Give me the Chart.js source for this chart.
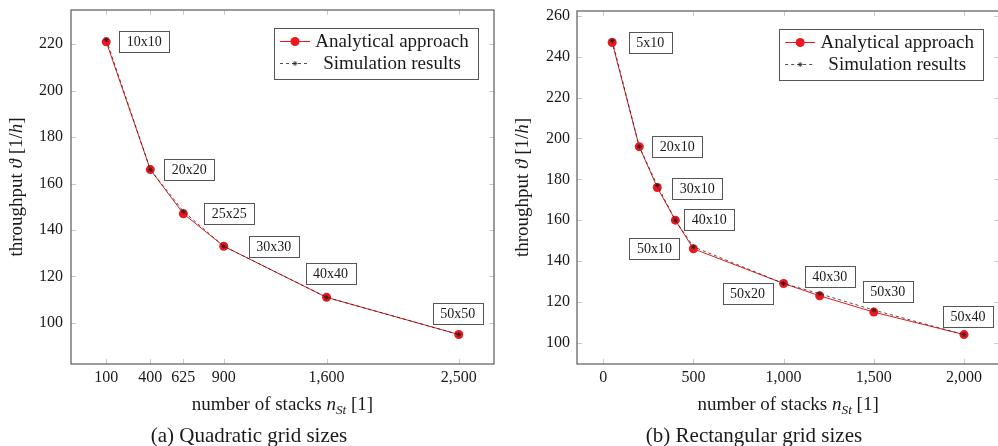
<!DOCTYPE html>
<html lang="en">
<head>
<meta charset="utf-8">
<title>Throughput over number of stacks</title>
<script src="https://cdn.jsdelivr.net/npm/chart.js@4.4.4/dist/chart.umd.min.js"></script>
<style>
  html, body { margin: 0; padding: 0; background: #fff; overflow: hidden; }
  .panel { position: absolute; top: 0; }
  #left-panel { left: 0; }
  #right-panel { left: 500px; }
</style>
</head>
<body>
<div class="panel" id="left-panel"><canvas id="left-plot" width="500" height="446"></canvas></div>
<div class="panel" id="right-panel"><canvas id="right-plot" width="504" height="446"></canvas></div>
<script>
// (a) quadratic grid sizes
const quad_stacks = [100, 400, 625, 900, 1600, 2500];
const quad_analytical = [221, 166, 147, 133, 111, 95];
const quad_simulation = [222, 166, 148, 133, 111, 95];
const quad_grid_labels = ['10x10', '20x20', '25x25', '30x30', '40x40', '50x50'];
const quad_x_ticks = [100, 400, 625, 900, 1600, 2500];
const quad_y_ticks = [100, 120, 140, 160, 180, 200, 220];

// (b) rectangular grid sizes
const rect_stacks = [50, 200, 300, 400, 500, 1000, 1200, 1500, 2000];
const rect_analytical = [247, 196, 176, 160, 146, 129, 123, 115, 104];
const rect_simulation = [248, 196, 177, 160, 147, 129, 124, 116, 104];
const rect_grid_labels = ['5x10', '20x10', '30x10', '40x10', '50x10', '50x20', '40x30', '50x30', '50x40'];
const rect_x_ticks = [0, 500, 1000, 1500, 2000];
const rect_y_ticks = [100, 120, 140, 160, 180, 200, 220, 240, 260];

const series_names = ['Analytical approach', 'Simulation results'];

// where each grid label box sits, relative to its point (px)
const quad_label_offsets = [[38, 0], [39, 0], [46, 0], [50, 0], [4, -24], [-1, -21]];
const rect_label_offsets = [[38, 0], [38, 0], [40, 1], [34, -1], [-39, 0], [-36, 10], [10, -19], [14, -21], [4, -18]];

const SERIF = '"Liberation Serif", "DejaVu Serif", serif';
const RED = 'rgb(236, 24, 30)';
const TEXT = '#1a1a1a';

function fmt(v) {
  return v.toLocaleString('en-US');
}

// pgfplots style: enlarge the data range by 10% on both ends
function enlarged(values) {
  const lo = Math.min(...values);
  const hi = Math.max(...values);
  const pad = (hi - lo) * 0.1;
  return [lo - pad, hi + pad];
}

function segFont(seg, size) {
  const s = seg.sub ? size * 0.7 : size;
  return (seg.italic ? 'italic ' : '') + s + 'px ' + SERIF;
}

function drawRich(ctx, segs, x, y, size) {
  let total = 0;
  segs.forEach(seg => {
    ctx.font = segFont(seg, size);
    total += ctx.measureText(seg.text).width;
  });
  let cx = x - total / 2;
  ctx.textAlign = 'left';
  ctx.textBaseline = 'middle';
  segs.forEach(seg => {
    ctx.font = segFont(seg, size);
    ctx.fillText(seg.text, cx, seg.sub ? y + size * 0.28 : y);
    cx += ctx.measureText(seg.text).width;
  });
}

const x_title = [
  {text: 'number of stacks '},
  {text: 'n', italic: true},
  {text: 'St', italic: true, sub: true},
  {text: ' [1]'}
];
const y_title = [
  {text: 'throughput '},
  {text: 'ϑ', italic: true},
  {text: ' [1/'},
  {text: 'h', italic: true},
  {text: ']'}
];

function drawStar(ctx, x, y, r) {
  ctx.beginPath();
  for (let k = 0; k < 4; k++) {
    const a = k * Math.PI / 4;
    ctx.moveTo(x - Math.cos(a) * r, y - Math.sin(a) * r);
    ctx.lineTo(x + Math.cos(a) * r, y + Math.sin(a) * r);
  }
  ctx.stroke();
}

const decorations = {
  id: 'decorations',
  beforeDatasetsDraw(chart, args, opts) {
    const {ctx, chartArea: a} = chart;
    const sx = chart.scales.x;
    const sy = chart.scales.y;
    ctx.save();
    ctx.strokeStyle = '#c9c9c9';
    ctx.lineWidth = 1;
    ctx.beginPath();
    opts.xTicks.forEach(v => {
      const px = Math.round(sx.getPixelForValue(v)) + 0.5;
      ctx.moveTo(px, a.top); ctx.lineTo(px, a.top + 5);
      ctx.moveTo(px, a.bottom); ctx.lineTo(px, a.bottom - 5);
    });
    opts.yTicks.forEach(v => {
      const py = Math.round(sy.getPixelForValue(v)) + 0.5;
      ctx.moveTo(a.left, py); ctx.lineTo(a.left + 5, py);
      ctx.moveTo(a.right, py); ctx.lineTo(a.right - 5, py);
    });
    ctx.stroke();
    ctx.strokeStyle = '#5a5a5a';
    ctx.lineWidth = 1.2;
    ctx.strokeRect(a.left, a.top, a.right - a.left, a.bottom - a.top);
    ctx.restore();
  },
  afterDatasetsDraw(chart, args, opts) {
    const {ctx, chartArea: a} = chart;
    const sx = chart.scales.x;
    const sy = chart.scales.y;
    ctx.save();

    // grid size boxes
    ctx.font = '14px ' + SERIF;
    ctx.textAlign = 'center';
    ctx.textBaseline = 'middle';
    opts.labels.forEach((txt, i) => {
      const px = sx.getPixelForValue(opts.xs[i]) + opts.offsets[i][0];
      const py = sy.getPixelForValue(opts.ys[i]) + opts.offsets[i][1];
      const w = ctx.measureText(txt).width + 15;
      const h = 21;
      ctx.fillStyle = '#fff';
      ctx.fillRect(px - w / 2, py - h / 2, w, h);
      ctx.strokeStyle = '#555';
      ctx.lineWidth = 1;
      ctx.strokeRect(Math.round(px - w / 2) + 0.5, Math.round(py - h / 2) + 0.5, Math.round(w), h);
      ctx.fillStyle = TEXT;
      ctx.fillText(txt, px, py + 1);
    });

    // legend box
    const lw = 204, lh = 51;
    const lx = a.right - 16 - lw;
    const ly = a.top + 17.5;
    ctx.fillStyle = '#fff';
    ctx.fillRect(lx, ly, lw, lh);
    ctx.strokeStyle = '#555';
    ctx.lineWidth = 1;
    ctx.strokeRect(Math.round(lx) + 0.5, Math.round(ly) + 0.5, lw, lh);
    const r1 = ly + 14, r2 = ly + 36;
    ctx.strokeStyle = RED;
    ctx.beginPath();
    ctx.moveTo(lx + 6, r1); ctx.lineTo(lx + 36, r1);
    ctx.stroke();
    ctx.fillStyle = RED;
    ctx.beginPath();
    ctx.arc(lx + 21, r1, 4.5, 0, Math.PI * 2);
    ctx.fill();
    ctx.strokeStyle = '#222';
    ctx.lineWidth = 0.8;
    ctx.setLineDash([3, 3]);
    ctx.beginPath();
    ctx.moveTo(lx + 6, r2); ctx.lineTo(lx + 36, r2);
    ctx.stroke();
    ctx.setLineDash([]);
    drawStar(ctx, lx + 21, r2, 2.5);
    ctx.fillStyle = TEXT;
    ctx.font = '19px ' + SERIF;
    ctx.textAlign = 'center';
    ctx.fillText(series_names[0], lx + 118, r1 + 1);
    ctx.fillText(series_names[1], lx + 118, r2 + 1);
    ctx.restore();
  },
  afterDraw(chart, args, opts) {
    const {ctx, chartArea: a} = chart;
    ctx.save();
    ctx.fillStyle = TEXT;
    drawRich(ctx, x_title, (a.left + a.right) / 2, 405, 19);
    ctx.translate(opts.yTitleX, (a.top + a.bottom) / 2);
    ctx.rotate(-Math.PI / 2);
    drawRich(ctx, y_title, 0, 0, 19);
    ctx.restore();
    ctx.save();
    ctx.fillStyle = TEXT;
    ctx.font = '21px ' + SERIF;
    ctx.textAlign = 'center';
    ctx.textBaseline = 'middle';
    ctx.fillText(opts.caption, opts.captionX, 436);
    ctx.restore();
  }
};

function makeChart(canvasId, cfg) {
  const xr = enlarged(cfg.xs);
  const yr = enlarged(cfg.analytical.concat(cfg.simulation));
  const tickFont = {family: SERIF, size: 16};
  return new Chart(document.getElementById(canvasId), {
    type: 'line',
    data: {
      datasets: [
        {
          label: series_names[0],
          data: cfg.xs.map((x, i) => ({x: x, y: cfg.analytical[i]})),
          borderColor: RED,
          backgroundColor: RED,
          borderWidth: 1,
          pointRadius: 4.5,
          pointBorderWidth: 0,
          pointBackgroundColor: RED,
          tension: 0,
          order: 2
        },
        {
          label: series_names[1],
          data: cfg.xs.map((x, i) => ({x: x, y: cfg.simulation[i]})),
          borderColor: '#222',
          backgroundColor: '#222',
          borderWidth: 0.8,
          borderDash: [3, 3],
          pointStyle: 'star',
          pointRadius: 2.5,
          pointBorderWidth: 0.8,
          pointBorderColor: '#222',
          tension: 0,
          order: 1
        }
      ]
    },
    options: {
      responsive: false,
      animation: false,
      devicePixelRatio: 1,
      layout: {padding: cfg.padding},
      scales: {
        x: {
          type: 'linear',
          min: xr[0],
          max: xr[1],
          grid: {display: false, drawTicks: false},
          border: {display: false},
          ticks: {font: tickFont, color: TEXT, padding: 4, maxRotation: 0, autoSkip: false,
            callback: v => fmt(v)},
          afterBuildTicks: s => { s.ticks = cfg.xTicks.map(v => ({value: v})); },
          afterFit: s => {
            s.height = 82;
            s.paddingLeft = 0; s.paddingRight = 0;
          }
        },
        y: {
          type: 'linear',
          min: yr[0],
          max: yr[1],
          grid: {display: false, drawTicks: false},
          border: {display: false},
          ticks: {font: tickFont, color: TEXT, padding: cfg.yPad, autoSkip: false,
            callback: v => fmt(v)},
          afterBuildTicks: s => { s.ticks = cfg.yTicks.map(v => ({value: v})); },
          afterFit: s => {
            s.width = cfg.yWidth;
            s.paddingTop = 0; s.paddingBottom = 0;
          }
        }
      },
      plugins: {
        legend: {display: false},
        tooltip: {enabled: false},
        decorations: {
          xTicks: cfg.xTicks,
          yTicks: cfg.yTicks,
          labels: cfg.labels,
          offsets: cfg.offsets,
          xs: cfg.xs,
          ys: cfg.analytical,
          caption: cfg.caption,
          captionX: cfg.captionX,
          yTitleX: cfg.yTitleX
        }
      }
    },
    plugins: [decorations]
  });
}

makeChart('left-plot', {
  xs: quad_stacks,
  analytical: quad_analytical,
  simulation: quad_simulation,
  labels: quad_grid_labels,
  offsets: quad_label_offsets,
  xTicks: quad_x_ticks,
  yTicks: quad_y_ticks,
  padding: {top: 10, right: 6, left: 0, bottom: 0},
  yWidth: 71,
  yPad: 8,
  yTitleX: 17,
  caption: '(a) Quadratic grid sizes',
  captionX: 249
});

makeChart('right-plot', {
  xs: rect_stacks,
  analytical: rect_analytical,
  simulation: rect_simulation,
  labels: rect_grid_labels,
  offsets: rect_label_offsets,
  xTicks: rect_x_ticks,
  yTicks: rect_y_ticks,
  padding: {top: 11, right: 4, left: 0, bottom: 0},
  yWidth: 77,
  yPad: 7,
  yTitleX: 23,
  caption: '(b) Rectangular grid sizes',
  captionX: 254
});
</script>
</body>
</html>
